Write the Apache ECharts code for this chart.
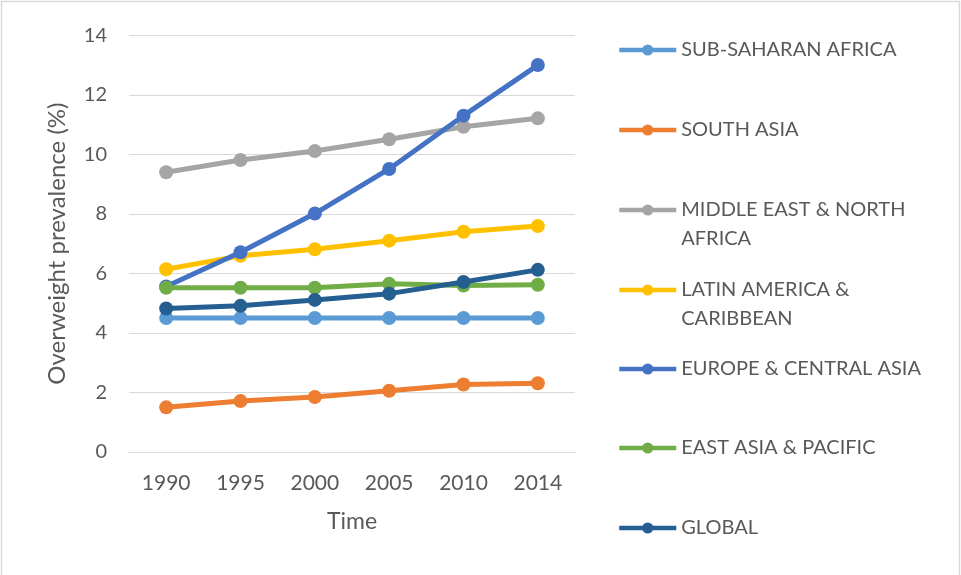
<!DOCTYPE html>
<html>
<head>
<meta charset="utf-8">
<script src="https://cdn.jsdelivr.net/npm/echarts@6/dist/echarts.min.js"></script>
<style>
html,body{margin:0;padding:0;background:#fff;}
#chart{width:961px;height:575px;}
</style>
</head>
<body>
<div id="chart"></div>
<script>
var years = ['1990', '1995', '2000', '2005', '2010', '2014'];
var yTicks = [0, 2, 4, 6, 8, 10, 12, 14];
var subSaharanAfrica = [4.5, 4.5, 4.5, 4.5, 4.5, 4.5];
var southAsia = [1.5, 1.71, 1.85, 2.06, 2.27, 2.31];
var middleEastNorthAfrica = [9.4, 9.81, 10.11, 10.51, 10.93, 11.21];
var latinAmericaCaribbean = [6.14, 6.59, 6.81, 7.1, 7.4, 7.59];
var europeCentralAsia = [5.56, 6.71, 8.01, 9.51, 11.3, 13.0];
var eastAsiaPacific = [5.52, 5.52, 5.52, 5.65, 5.59, 5.62];
var globalValues = [4.82, 4.91, 5.11, 5.32, 5.71, 6.12];
var seriesNames = ['SUB-SAHARAN AFRICA', 'SOUTH ASIA', 'MIDDLE EAST & NORTH AFRICA', 'LATIN AMERICA & CARIBBEAN', 'EUROPE & CENTRAL ASIA', 'EAST ASIA & PACIFIC', 'GLOBAL'];
var legendLines = [['SUB-SAHARAN AFRICA'], ['SOUTH ASIA'], ['MIDDLE EAST & NORTH', 'AFRICA'], ['LATIN AMERICA &', 'CARIBBEAN'], ['EUROPE & CENTRAL ASIA'], ['EAST ASIA & PACIFIC'], ['GLOBAL']];
var seriesData = [subSaharanAfrica, southAsia, middleEastNorthAfrica, latinAmericaCaribbean, europeCentralAsia, eastAsiaPacific, globalValues];
var colors = ['#5B9BD5', '#ED7D31', '#A5A5A5', '#FFC000', '#4472C4', '#70AD47', '#255E91'];

var FONT = 'Lato';
var TXT = '#595959';
var chart = echarts.init(document.getElementById('chart'));

var legendCenters = [50, 130, 210, 290, 369, 448, 528];
var legends = seriesNames.map(function (name, i) {
  var lines = legendLines[i];
  var multi = lines.length > 1;
  return {
    orient: 'vertical',
    left: 617,
    top: multi ? legendCenters[i] - 43.5 : legendCenters[i] - 14.5,
    padding: 0,
    itemWidth: 57,
    itemHeight: 14,
    selectedMode: false,
    data: [name],
    lineStyle: { width: 4.5 },
    formatter: function () { return multi ? '\n' + lines.join('\n') : lines[0]; },
    textStyle: { fontFamily: FONT, fontSize: 20, color: TXT, lineHeight: 29 }
  };
});

var option = {
  animation: false,
  backgroundColor: '#ffffff',
  color: colors,
  graphic: [{
    type: 'rect',
    shape: { x: 1.5, y: 1.5, width: 958, height: 620 },
    style: { fill: null, stroke: '#D9D9D9', lineWidth: 1.5 },
    silent: true
  }],
  legend: legends,
  grid: { left: 129, right: 386, top: 35.3, bottom: 123, containLabel: false },
  xAxis: {
    type: 'category',
    data: years,
    boundaryGap: true,
    name: 'Time',
    nameLocation: 'middle',
    nameGap: 58,
    nameTextStyle: { fontFamily: FONT, fontSize: 23, color: TXT },
    axisLine: { show: true, lineStyle: { color: '#D9D9D9', width: 1 } },
    axisTick: { show: false },
    axisLabel: { fontFamily: FONT, fontSize: 21, color: TXT, margin: 20, lineHeight: 22 }
  },
  yAxis: {
    type: 'value',
    min: 0,
    max: 14,
    interval: 2,
    name: 'Overweight prevalence (%)',
    nameLocation: 'middle',
    nameGap: 60,
    nameRotate: 90,
    nameTextStyle: { fontFamily: FONT, fontSize: 24, color: TXT },
    axisLine: { show: false },
    axisTick: { show: false },
    axisLabel: {
      fontFamily: FONT, fontSize: 20, color: TXT, margin: 22,
      formatter: function (v) { return yTicks.indexOf(v) >= 0 ? String(v) : ''; }
    },
    splitLine: { show: true, lineStyle: { color: '#D9D9D9', width: 1 } }
  },
  series: seriesNames.map(function (name, i) {
    return {
      name: name,
      type: 'line',
      data: seriesData[i],
      symbol: 'circle',
      symbolSize: 14,
      showSymbol: true,
      lineStyle: { width: 5, color: colors[i] },
      itemStyle: { color: colors[i] },
      z: 2 + i
    };
  })
};
chart.setOption(option);
</script>
</body>
</html>
